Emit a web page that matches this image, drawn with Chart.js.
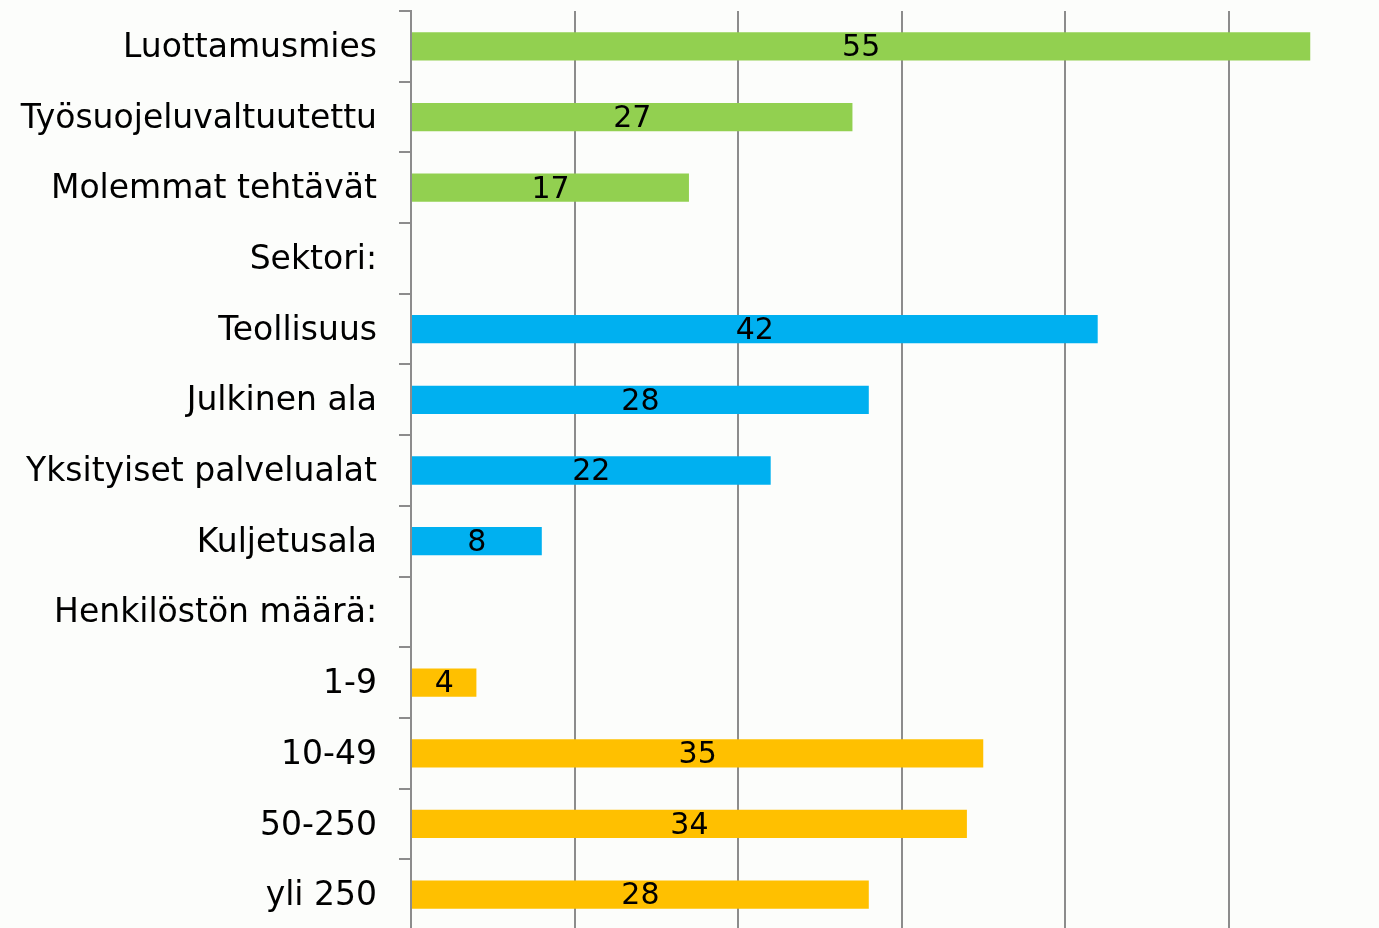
<!DOCTYPE html>
<html>
<head>
<meta charset="utf-8">
<script src="https://cdn.jsdelivr.net/npm/chart.js@4"></script>
<style>
  html, body { margin: 0; padding: 0; overflow: hidden; background: #fcfdfb; }
  #wrap { width: 1400px; height: 932px; }
</style>
</head>
<body>
<div id="wrap"><canvas id="grafico"></canvas></div>
<script>
const categorias = [
    'Luottamusmies', 'Työsuojeluvaltuutettu', 'Molemmat tehtävät',
    'Sektori:', 'Teollisuus', 'Julkinen ala', 'Yksityiset palvelualat', 'Kuljetusala',
    'Henkilöstön määrä:', '1-9', '10-49', '50-250', 'yli 250'
];
const valores = [55, 27, 17, null, 42, 28, 22, 8, null, 4, 35, 34, 28];
const cores = [
    '#92d050', '#92d050', '#92d050', '#92d050',
    '#00b0f0', '#00b0f0', '#00b0f0', '#00b0f0', '#00b0f0',
    '#ffc000', '#ffc000', '#ffc000', '#ffc000'
];
const eixoMax = 60;
const passo = 10;

const FONTE = "'DejaVu Sans', sans-serif";

// Escrever os valores no meio das barras
const rotulosBarras = {
    id: 'rotulosBarras',
    afterDatasetsDraw(chart) {
        const ctx = chart.ctx;
        const meta = chart.getDatasetMeta(0);
        ctx.save();
        ctx.font = `30px ${FONTE}`;
        ctx.fillStyle = '#000';
        ctx.textAlign = 'center';
        ctx.textBaseline = 'middle';
        meta.data.forEach((bar, i) => {
            const v = valores[i];
            if (v === null) return;
            const centro = (bar.x + bar.base) / 2;
            ctx.fillText(String(v), centro, bar.y + 2);
        });
        ctx.restore();
    }
};

const ctx = document.getElementById('grafico').getContext('2d');
new Chart(ctx, {
    type: 'bar',
    data: {
        labels: categorias,
        datasets: [{
            data: valores,
            backgroundColor: cores,
            borderWidth: 0,
            categoryPercentage: 1,
            barPercentage: 0.4
        }]
    },
    options: {
        indexAxis: 'y',
        responsive: true,
        maintainAspectRatio: false,
        animation: false,
        layout: { padding: { top: 11, right: 8, bottom: 2, left: 0 } },
        plugins: { legend: { display: false }, tooltip: { enabled: false } },
        scales: {
            x: {
                min: 0,
                max: eixoMax,
                ticks: { display: false, stepSize: passo, padding: 0 },
                grid: { color: '#8c8c8c', lineWidth: 2, drawTicks: false, tickLength: 0 },
                border: { display: false }
            },
            y: {
                afterFit(scale) {
                    scale.width = 411;
                    scale.paddingTop = 0;
                    scale.paddingBottom = 0;
                },
                ticks: {
                    color: '#000',
                    font: { family: FONTE, size: 33, lineHeight: 0.05 },
                    padding: 22,
                    labelOffset: 2
                },
                grid: {
                    drawOnChartArea: false,
                    drawTicks: true,
                    tickLength: 12,
                    color: '#8c8c8c',
                    lineWidth: 2
                },
                border: { color: '#8c8c8c', width: 2 }
            }
        }
    },
    plugins: [rotulosBarras]
});
</script>
</body>
</html>
